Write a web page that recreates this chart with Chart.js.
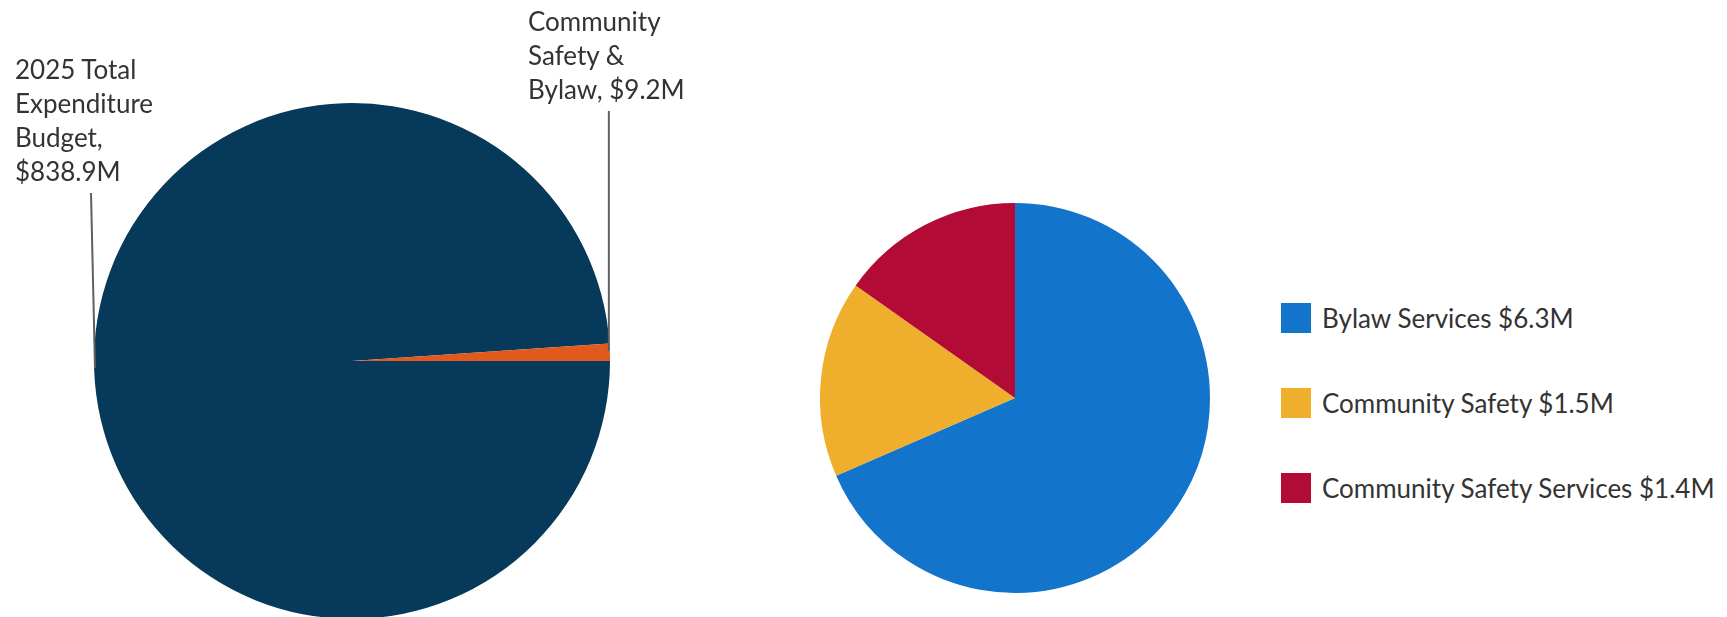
<!DOCTYPE html>
<html>
<head>
<meta charset="utf-8">
<script src="https://cdn.jsdelivr.net/npm/chart.js@4.4.1/dist/chart.umd.min.js"></script>
<style>
  html, body { margin: 0; padding: 0; background: #fff; overflow: hidden; }
  #wrap { position: relative; width: 1727px; height: 617px; overflow: hidden; font-family: Lato, "Open Sans", sans-serif; color: #333; }
  .lbl { position: absolute; font-size: 26px; line-height: 34px; white-space: nowrap; }
  #c-total { position: absolute; left: 0; top: 0; }
  #c-detail { position: absolute; left: 815px; top: 198px; }
  #legend { position: absolute; left: 1281px; top: 303px; white-space: nowrap; }
  .leg-item { display: flex; align-items: center; height: 30px; margin-bottom: 55px; font-size: 26px; }
  .leg-box { width: 30px; height: 30px; margin-right: 11px; flex: none; }
</style>
</head>
<body>
<div id="wrap">
  <canvas id="c-total" width="704" height="619"></canvas>
  <canvas id="c-detail" width="400" height="400"></canvas>
  <div class="lbl" id="lbl-0" style="left:15px;top:52px"></div>
  <div class="lbl" id="lbl-1" style="left:528px;top:4px"></div>
  <div id="legend"></div>
</div>
<script>
// ── dados ──────────────────────────────────────────────
const totalLabels = ['2025 Total Expenditure Budget', 'Community Safety & Bylaw'];
const totalValues = [838.9, 9.2];            // $M
const totalLines  = [['2025 Total', 'Expenditure', 'Budget,', '$838.9M'], ['Community', 'Safety &', 'Bylaw, $9.2M']];
const totalColors = ['#06395A', '#E05A20'];

const detailLabels = ['Bylaw Services', 'Community Safety', 'Community Safety Services'];
const detailValues = [6.3, 1.5, 1.4];        // $M
const detailColors = ['#1274CB', '#EFAE2B', '#B10B36'];

// rótulos do gráfico da esquerda
totalLines.forEach((linhas, i) => {
  document.getElementById('lbl-' + i).innerHTML = linhas.map(s => s.replace(/&/g, '&amp;')).join('<br>');
});

// legenda do gráfico da direita
document.getElementById('legend').innerHTML = detailLabels.map((l, i) =>
  `<div class="leg-item"><div class="leg-box" style="background:${detailColors[i]}"></div>${l} $${detailValues[i].toFixed(1)}M</div>`
).join('');

// linhas de chamada: da borda da fatia até o rótulo
const leaderLines = {
  id: 'leaderLines',
  afterDraw(chart) {
    const ctx = chart.ctx;
    const arcs = chart.getDatasetMeta(0).data;
    const canvasTop = chart.canvas.getBoundingClientRect().top;
    ctx.save();
    ctx.strokeStyle = '#5f5f5f';
    ctx.lineWidth = 2;
    // fatia grande: ponto na borda esquerda do círculo
    const a0 = arcs[0];
    const lb0 = document.getElementById('lbl-0').getBoundingClientRect();
    ctx.beginPath();
    ctx.moveTo(a0.x - a0.outerRadius - 3, lb0.bottom - canvasTop + 5);
    ctx.lineTo(a0.x - a0.outerRadius + 1, a0.y + 7);
    ctx.stroke();
    // fatia pequena: ponto na borda, no meio do ângulo
    const a1 = arcs[1];
    const mid = (a1.startAngle + a1.endAngle) / 2;
    const px = a1.x + Math.cos(mid) * a1.outerRadius - 1;
    const py = a1.y + Math.sin(mid) * a1.outerRadius - 1;
    const lb1 = document.getElementById('lbl-1').getBoundingClientRect();
    ctx.beginPath();
    ctx.moveTo(px, lb1.bottom - canvasTop + 5);
    ctx.lineTo(px, py);
    ctx.stroke();
    ctx.restore();
  }
};

const commonOpts = {
  responsive: false,
  animation: false,
  events: [],
  plugins: { legend: { display: false }, tooltip: { enabled: false } }
};

new Chart(document.getElementById('c-total'), {
  type: 'pie',
  data: { labels: totalLabels, datasets: [{ data: totalValues, backgroundColor: totalColors, borderWidth: 0, hoverOffset: 0 }] },
  options: { ...commonOpts, rotation: 90, layout: { padding: { left: 94, right: 94, top: 103, bottom: 0 } } },
  plugins: [leaderLines]
});

new Chart(document.getElementById('c-detail'), {
  type: 'pie',
  data: { labels: detailLabels, datasets: [{ data: detailValues, backgroundColor: detailColors, borderWidth: 0, hoverOffset: 0 }] },
  options: { ...commonOpts, layout: { padding: 5 } }
});
</script>
</body>
</html>
